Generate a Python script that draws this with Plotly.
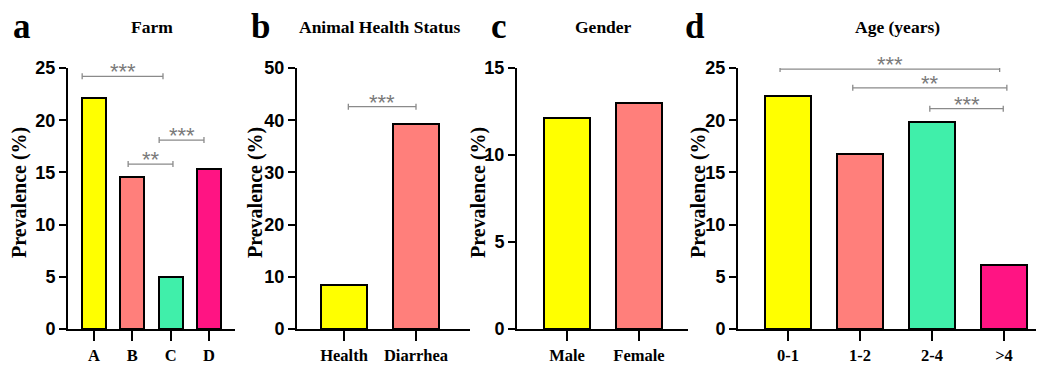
import plotly.graph_objects as go

# ---------------- data ----------------
farm_cats = ["A", "B", "C", "D"]
farm_vals = [22.1, 14.6, 5.0, 15.3]

health_cats = ["Health", "Diarrhea"]
health_vals = [8.4, 39.3]

gender_cats = ["Male", "Female"]
gender_vals = [12.1, 13.0]

age_cats = ["0-1", "1-2", "2-4", ">4"]
age_vals = [22.3, 16.8, 19.8, 6.1]

panel_titles = ["Farm", "Animal Health Status", "Gender", "Age (years)"]
panel_letters = ["a", "b", "c", "d"]
y_title = "Prevalence (%)"

# significance brackets: (x start, x end in category units, y level, label)
farm_sig = [(-0.31, 1.80, 24.2, "***"), (0.89, 2.06, 15.8, "**"), (1.70, 2.87, 18.1, "***")]
health_sig = [(0.06, 1.0, 42.6, "***")]
gender_sig = []
age_sig = [(-0.11, 2.94, 24.9, "***"), (0.90, 3.04, 23.1, "**"), (1.97, 2.99, 21.1, "***")]

COLORS4 = ["#FFFF00", "#FF7F7B", "#40EFAA", "#FF1483"]

# the page body adds an 8px margin, so layout is built in page pixels minus that offset
OFF = 8
W, H = 1044 - OFF, 369 - OFF


def fx(px):
    return (px - OFF) / W


def fy(py):
    return 1 - (py - OFF) / H


panels = [
    dict(cats=farm_cats, vals=farm_vals, sig=farm_sig, colors=COLORS4,
         xdom=(68, 235), xr=(-0.68, 3.68), yr=(0, 25), dtick=5, bw=0.63,
         letter_x=22, title_x=152, ytitle_x=19),
    dict(cats=health_cats, vals=health_vals, sig=health_sig, colors=COLORS4[:2],
         xdom=(297, 470), xr=(-0.653, 1.75), yr=(0, 50), dtick=10, bw=0.64,
         letter_x=260, title_x=380, ytitle_x=255),
    dict(cats=gender_cats, vals=gender_vals, sig=gender_sig, colors=COLORS4[:2],
         xdom=(517, 688), xr=(-0.694, 1.68), yr=(0, 15), dtick=5, bw=0.64,
         letter_x=499, title_x=603, ytitle_x=478),
    dict(cats=age_cats, vals=age_vals, sig=age_sig, colors=COLORS4,
         xdom=(738, 1044), xr=(-0.694, 3.556), yr=(0, 25), dtick=5, bw=0.64,
         letter_x=695, title_x=897, ytitle_x=698),
]

ydom = (fy(329), fy(68))

fig = go.Figure()
shapes = []
annotations = []

for i, p in enumerate(panels):
    n = i + 1
    xa = "x" if n == 1 else f"x{n}"
    ya = "y" if n == 1 else f"y{n}"
    fig.add_trace(go.Bar(
        x=p["cats"], y=p["vals"], xaxis=xa, yaxis=ya,
        marker=dict(color=p["colors"], line=dict(color="black", width=2)),
        width=p["bw"], showlegend=False, hoverinfo="x+y",
    ))
    xkey = "xaxis" if n == 1 else f"xaxis{n}"
    ykey = "yaxis" if n == 1 else f"yaxis{n}"
    fig.update_layout(**{
        xkey: dict(domain=[fx(p["xdom"][0]), min(1.0, fx(p["xdom"][1]))], anchor=ya,
                   type="category", range=list(p["xr"]), automargin=False,
                   showline=True, linewidth=2, linecolor="black",
                   ticks="outside", ticklen=10, tickwidth=2, tickcolor="black",
                   showgrid=False, zeroline=False,
                   tickfont=dict(family="Liberation Serif", size=16.5, color="black", weight="bold")),
        ykey: dict(domain=list(ydom), anchor=xa, range=list(p["yr"]), dtick=p["dtick"],
                   automargin=False,
                   showline=True, linewidth=2, linecolor="black",
                   ticks="outside", ticklen=7, tickwidth=2, tickcolor="black",
                   showgrid=False, zeroline=False,
                   tickfont=dict(family="Liberation Sans", size=18, color="black", weight="bold")),
    })
    # brackets
    for (x0, x1, yv, lab) in p["sig"]:
        shapes.append(dict(type="line", xref=xa, yref=ya, x0=x0, x1=x1, y0=yv, y1=yv,
                           line=dict(color="#8a8a8a", width=1.3)))
        for xe in (x0, x1):
            shapes.append(dict(type="line", xref=xa, yref=ya, x0=xe, x1=xe,
                               ysizemode="pixel", yanchor=yv, y0=-3, y1=3,
                               line=dict(color="#8a8a8a", width=1.3)))
        annotations.append(dict(xref=xa, yref=ya, x=(x0 + x1) / 2, y=yv, text=lab,
                                showarrow=False, yanchor="bottom", yshift=-10,
                                font=dict(family="Liberation Sans", size=22, color="#7a7a7a")))
    # panel letter
    annotations.append(dict(xref="paper", yref="paper", x=fx(p["letter_x"]), y=fy(5),
                            text=panel_letters[i], showarrow=False, xanchor="center", yanchor="top",
                            font=dict(family="Liberation Serif", size=35, color="black", weight="bold")))
    # panel title
    annotations.append(dict(xref="paper", yref="paper", x=fx(p["title_x"]), y=fy(27),
                            text=panel_titles[i], showarrow=False, xanchor="center", yanchor="middle",
                            font=dict(family="Liberation Serif", size=17.5, color="black", weight="bold")))
    # y axis title
    annotations.append(dict(xref="paper", yref="paper", x=fx(p["ytitle_x"]), y=fy(193),
                            text=y_title, showarrow=False, textangle=-90,
                            xanchor="center", yanchor="middle",
                            font=dict(family="Liberation Serif", size=20, color="black", weight="bold")))

fig.update_layout(width=W, height=H, margin=dict(l=0, r=0, t=0, b=0),
                  paper_bgcolor="white", plot_bgcolor="white",
                  shapes=shapes, annotations=annotations, bargap=0)

fig.write_html("out.html")
